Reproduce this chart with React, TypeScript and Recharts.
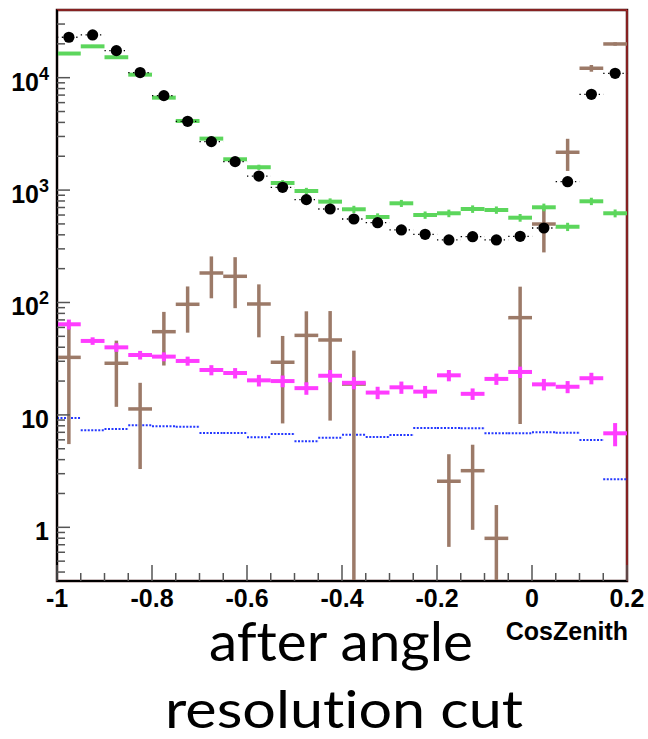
import React from 'react'
import { ComposedChart, Scatter, XAxis, YAxis, ErrorBar, ReferenceArea } from 'recharts'

// bin centres of CosZenith (bin width 0.05)
const binCenters = [
  -0.975, -0.925, -0.875, -0.825, -0.775, -0.725, -0.675, -0.625, -0.575, -0.525, -0.475, -0.425,
  -0.375, -0.325, -0.275, -0.225, -0.175, -0.125, -0.075, -0.025, 0.025, 0.075, 0.125, 0.175,
]
const binHalfWidth = 0.025

// black points (data)
const dataVals = [22900, 24000, 17400, 11100, 6920, 4090, 2700, 1790, 1333, 1059, 822, 679, 553, 513, 442, 404, 360, 385, 360, 388, 460, 1188, 7110, 10940]

// green crosses
const greenVals = [16400, 19000, 15200, 10640, 6640, 4120, 2870, 1880, 1597, 1156, 982, 789, 675, 576, 763, 600, 622, 679, 665, 568, 703, 472, 795, 622]
const greenErr = [500, 560, 480, 350, 240, 160, 120, 90, 85, 70, 65, 55, 50, 45, 55, 45, 48, 52, 50, 45, 55, 40, 60, 50]

// magenta crosses
const magentaVals = [64, 45.5, 39.9, 34.1, 33, 30.2, 25.1, 23.6, 20.3, 20.0, 17.3, 22.3, 19.3, 15.8, 17.6, 16.1, 22.5, 15.4, 20.9, 24.1, 18.7, 17.8, 21.2, 6.86]
const magentaErr = [6.5, 3.5, 3.5, 3, 3, 2.8, 2.6, 2.5, 2.4, 2.4, 2.2, 2.8, 2.4, 2, 2.2, 2, 2.6, 1.8, 2.4, 2.8, 2.2, 2.2, 2.5, 1.6]

// brown crosses (empty bins are null)
const brownVals = [32.5, null, 28.8, 11.3, 55, 96.4, 183, 171, 97, 29.4, 51, 46.4, 18.8, null, null, null, 2.57, 3.19, 0.798, 73.3, 499, 2170, 12130, 19950]
const brownErr = [27, null, 17, 8, 27.5, 42.5, 74, 82, 48, 21, 32.5, 37.5, 18.5, null, null, null, 1.9, 2.24, 0.78, 65, 220, 690, 830, 700]

// blue dotted histogram
const blueVals = [9.38, 7.29, 7.49, 8.08, 7.92, 7.86, 6.9, 6.9, 6.32, 6.76, 5.82, 6.27, 6.67, 6.36, 6.62, 7.65, 7.65, 7.6, 6.86, 6.86, 7.0, 6.95, 5.98, 2.67]

const xTicks = [-1, -0.95, -0.9, -0.85, -0.8, -0.75, -0.7, -0.65, -0.6, -0.55, -0.5, -0.45, -0.4, -0.35, -0.3, -0.25, -0.2, -0.15, -0.1, -0.05, 0, 0.05, 0.1, 0.15, 0.2]
const xLabels: Record<string, string> = { '-1': '-1', '-0.8': '-0.8', '-0.6': '-0.6', '-0.4': '-0.4', '-0.2': '-0.2', '0': '0', '0.2': '0.2' }
const yDecades = [0.1, 1, 10, 100, 1000, 10000]
const yMin = 0.333
const yMax = 40000
const yTicks = yDecades
  .flatMap((d) => [1, 2, 3, 4, 5, 6, 7, 8, 9].map((m) => m * d))
  .filter((v) => v > yMin && v < yMax)

// error bars stop at the bottom of the frame (ROOT clips them there)
const toRows = (vals: (number | null)[], errs?: (number | null)[]) =>
  binCenters
    .map((x, i) => {
      const y = vals[i] as number
      const e = errs ? (errs[i] as number) : 0
      return { x, y, errs: [Math.min(e, y - yMin), e], xe: binHalfWidth }
    })
    .filter((r) => r.y != null)

const rowsData = toRows(dataVals)
const rowsGreen = toRows(greenVals, greenErr)
const rowsMagenta = toRows(magentaVals, magentaErr)
const rowsBrown = toRows(brownVals, brownErr)
const rowsBlue = toRows(blueVals)

const labelFont = '"Liberation Sans", Arial, Helvetica, sans-serif'
const titleFont = "Lato, 'Open Sans', sans-serif"

const noShape = () => <g />
const dotShape = (p: any) => <circle cx={p.cx} cy={p.cy} r={5.6} fill="#000" />

function XTick(props: any) {
  const { x, y, payload } = props
  const key = String(Math.round(payload.value * 100) / 100)
  const label = xLabels[key]
  const major = label !== undefined
  return (
    <g>
      <line x1={x} x2={x} y1={y} y2={y - (major ? 16 : 8)} stroke="#555" strokeWidth={1.5} />
      {major && (
        <text x={x} y={y + 26} textAnchor="middle" fontFamily={labelFont} fontWeight="bold" fontSize={25} fill="#000">
          {label}
        </text>
      )}
    </g>
  )
}

function YTick(props: any) {
  const { x, y, payload } = props
  const lg = Math.log10(payload.value)
  const exp = Math.round(lg)
  const major = Math.abs(lg - exp) < 1e-6
  let label: React.ReactNode = null
  if (major) {
    if (exp <= 1) label = <tspan>{exp === 0 ? '1' : '10'}</tspan>
    else
      label = (
        <>
          <tspan>10</tspan>
          <tspan dy={-11} fontSize={18}>{exp}</tspan>
        </>
      )
  }
  return (
    <g>
      <line x1={x} x2={x + (major ? 13 : 8)} y1={y} y2={y} stroke="#555" strokeWidth={1.5} />
      {major && (
        <text x={49} y={y + 13} textAnchor="end" fontFamily={labelFont} fontWeight="bold" fontSize={25} fill="#000">
          {label}
        </text>
      )}
    </g>
  )
}

export default function App() {
  return (
    <div style={{ position: 'absolute', left: 0, top: 0, width: 648, height: 739, background: '#fff' }}>
      <ComposedChart width={648} height={739} margin={{ top: 10, right: 21, bottom: 118, left: 0 }}>
        <XAxis
          dataKey="x"
          type="number"
          domain={[-1, 0.2]}
          allowDataOverflow
          ticks={xTicks}
          interval={0}
          tickSize={0}
          tickMargin={0}
          tickLine={false}
          tick={<XTick />}
          axisLine={{ stroke: '#000', strokeWidth: 2 }}
          height={40}
        />
        <YAxis
          dataKey="y"
          type="number"
          scale="log"
          domain={[yMin, yMax]}
          allowDataOverflow
          ticks={yTicks}
          interval={0}
          tickSize={0}
          tickMargin={0}
          tickLine={false}
          tick={<YTick />}
          axisLine={{ stroke: '#000', strokeWidth: 2 }}
          width={57}
        />
        <ReferenceArea x1={-1} x2={0.2} y1={yMin} y2={yMax} fill="none" stroke="#3a0808" strokeWidth={2.5} />
        <ReferenceArea x1={-1} x2={0.2} y1={yMin} y2={yMax} fill="none" stroke="#d23a3a" strokeWidth={1} />

        <Scatter data={rowsBlue} dataKey="y" shape={noShape} isAnimationActive={false}>
          <ErrorBar dataKey="xe" direction="x" width={0} stroke="#2438ff" strokeWidth={2} strokeDasharray="2 1.5" />
        </Scatter>
        <Scatter data={rowsBrown} dataKey="y" shape={noShape} isAnimationActive={false}>
          <ErrorBar dataKey="xe" direction="x" width={0} stroke="#9c7a68" strokeWidth={3.5} />
          <ErrorBar dataKey="errs" direction="y" width={0} stroke="#9c7a68" strokeWidth={3.5} />
        </Scatter>
        <Scatter data={rowsMagenta} dataKey="y" shape={noShape} isAnimationActive={false}>
          <ErrorBar dataKey="xe" direction="x" width={0} stroke="#ff3cff" strokeWidth={4} />
          <ErrorBar dataKey="errs" direction="y" width={0} stroke="#ff3cff" strokeWidth={4} />
        </Scatter>
        <Scatter data={rowsGreen} dataKey="y" shape={noShape} isAnimationActive={false}>
          <ErrorBar dataKey="xe" direction="x" width={0} stroke="#5cd65c" strokeWidth={4} />
          <ErrorBar dataKey="errs" direction="y" width={0} stroke="#5cd65c" strokeWidth={3} />
        </Scatter>
        <Scatter data={rowsData} dataKey="y" shape={dotShape} isAnimationActive={false}>
          <ErrorBar dataKey="xe" direction="x" width={0} stroke="#000" strokeWidth={1.3} strokeDasharray="1.3 3.5" />
        </Scatter>
      </ComposedChart>
      <svg width={648} height={739} style={{ position: 'absolute', left: 0, top: 0, pointerEvents: 'none' }}>
        <text x={628} y={640} textAnchor="end" fontFamily={labelFont} fontWeight="bold" fontSize={25} fill="#000">
          CosZenith
        </text>
        <text
          x={341}
          y={661}
          textAnchor="middle"
          fontFamily={titleFont}
          fontSize={54}
          fill="#000"
          textLength={264}
          lengthAdjust="spacingAndGlyphs"
          style={{ fontVariantLigatures: 'none' }}
        >
          after angle
        </text>
        <text
          x={344}
          y={728}
          textAnchor="middle"
          fontFamily={titleFont}
          fontSize={52}
          fill="#000"
          textLength={358}
          lengthAdjust="spacingAndGlyphs"
          style={{ fontVariantLigatures: 'none' }}
        >
          resolution cut
        </text>
      </svg>
    </div>
  )
}
